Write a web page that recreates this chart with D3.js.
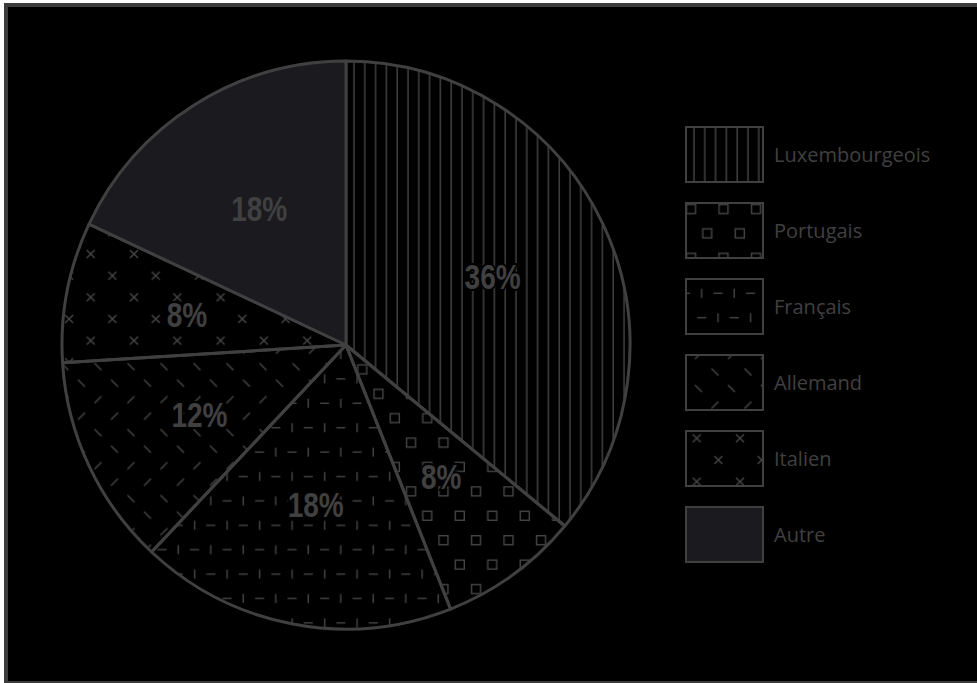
<!DOCTYPE html>
<html>
<head>
<meta charset="utf-8">
<script src="https://cdn.jsdelivr.net/npm/d3@7"></script>
<style>
  body { margin: 0; background: #fff; }
</style>
</head>
<body>
<div id="chart"></div>
<script>
// data
const categories = ["Luxembourgeois", "Portugais", "Français", "Allemand", "Italien", "Autre"];
const shares = [36, 8, 18, 12, 8, 18];
const pctLabels = ["36%", "8%", "18%", "12%", "8%", "18%"];
const patternKinds = ["vlines", "squares", "dashes", "diag", "cross", "solid"];

const W = 977, H = 683;
const cx = 346, cy = 345, radius = 284;
const lineCol = "#454545", edgeCol = "#404040", textCol = "#404040";

const svg = d3.select("#chart").append("svg")
    .attr("width", W)
    .attr("height", H);

// frame
svg.append("rect").attr("x", 4).attr("y", 3).attr("width", W - 4).attr("height", H - 3).attr("fill", "#3c3c3c");
svg.append("rect").attr("x", 8).attr("y", 7).attr("width", W - 8).attr("height", 674).attr("fill", "#000");

const defs = svg.append("defs");

// build one hatch pattern; ox/oy shift the tile origin
function addPattern(id, kind, ox, oy) {
  let p;
  if (kind === "vlines") {
    p = defs.append("pattern").attr("width", 10.8).attr("height", 10);
    p.append("line").attr("x1", 8).attr("x2", 8).attr("y1", -1).attr("y2", 11);
  } else if (kind === "squares") {
    p = defs.append("pattern").attr("width", 32.5).attr("height", 48.8);
    [[8.1, 12.2], [24.4, 36.6]].forEach(c => {
      p.append("rect").attr("x", c[0] - 4.5).attr("y", c[1] - 4.5).attr("width", 9).attr("height", 9).attr("fill", "none");
    });
  } else if (kind === "dashes") {
    p = defs.append("pattern").attr("width", 32.5).attr("height", 48.8);
    const v = (x, y) => p.append("line").attr("x1", x).attr("x2", x).attr("y1", y - 4.5).attr("y2", y + 4.5);
    const h = (x, y) => p.append("line").attr("x1", x - 4.5).attr("x2", x + 4.5).attr("y1", y).attr("y2", y);
    v(8.1, 12.2); h(24.4, 12.2);
    h(8.1, 36.6); v(24.4, 36.6);
  } else if (kind === "diag") {
    p = defs.append("pattern").attr("width", 33).attr("height", 66);
    const back = (x, y) => p.append("line").attr("x1", x - 3.5).attr("x2", x + 3.5).attr("y1", y - 3.5).attr("y2", y + 3.5);
    const fwd = (x, y) => p.append("line").attr("x1", x - 3.5).attr("x2", x + 3.5).attr("y1", y + 3.5).attr("y2", y - 3.5);
    back(24.75, 8.25); back(8.25, 24.75);
    fwd(24.75, 41.25); fwd(8.25, 57.75);
  } else if (kind === "cross") {
    p = defs.append("pattern").attr("width", 43.3).attr("height", 43.3);
    [[10.8, 10.8], [32.5, 32.5]].forEach(c => {
      p.append("path").attr("d", `M${c[0]-4},${c[1]-4}L${c[0]+4},${c[1]+4}M${c[0]-4},${c[1]+4}L${c[0]+4},${c[1]-4}`);
    });
  } else {
    p = defs.append("pattern").attr("width", 10).attr("height", 10);
    p.append("rect").attr("width", 10).attr("height", 10).attr("fill", "#1b1a1f");
  }
  p.attr("id", id).attr("patternUnits", "userSpaceOnUse").attr("x", ox).attr("y", oy);
  p.selectAll("line,path,rect[fill='none']").attr("stroke", lineCol).attr("stroke-width", 1.4);
  return "url(#" + id + ")";
}

// phase of each hatch inside the pie (relative to centre) and inside a legend box
const pieOffsets = [[0, 0], [-8.1, -12.2], [-13.3, -2.7], [-8.75, 13.45], [-6.3, -15.2], [0, 0]];
const legOffsets = [[0, 0], [-3.1, -6.2], [7.6, 2.1], [4.25, 8.75], [-0.1, -3.5], [0, 0]];

const pie = d3.pie().sort(null).value(d => d);
const arcs = pie(shares);
const arc = d3.arc().innerRadius(0).outerRadius(radius);
const labelArc = d3.arc().innerRadius(162).outerRadius(162);

const g = svg.append("g").attr("transform", `translate(${cx},${cy})`);

g.selectAll("path.slice")
  .data(arcs)
  .enter().append("path")
    .attr("class", "slice")
    .attr("d", arc)
    .attr("fill", (d, i) => addPattern("pie" + i, patternKinds[i], pieOffsets[i][0], pieOffsets[i][1]))
    .attr("stroke", edgeCol)
    .attr("stroke-width", 3)
    .attr("stroke-linejoin", "round");

// condensed bold labels: squeeze Liberation Sans Bold horizontally,
// with a thin knockout so the hatching stops around the digits
g.selectAll("text.pct")
  .data(arcs)
  .enter().append("text")
    .attr("class", "pct")
    .attr("transform", d => "translate(" + labelArc.centroid(d) + ") scale(0.8,1)")
    .attr("text-anchor", "middle")
    .attr("dy", "0.36em")
    .style("font-family", "'Liberation Sans', Arial, sans-serif")
    .style("font-weight", "bold")
    .style("font-size", "35px")
    .style("fill", textCol)
    .style("stroke", (d, i) => patternKinds[i] === "solid" ? "none" : "#000")
    .style("stroke-width", 4)
    .style("paint-order", "stroke")
    .text((d, i) => pctLabels[i]);

// legend
const legend = svg.append("g").attr("transform", "translate(686,127)");
const item = legend.selectAll("g.item")
  .data(categories)
  .enter().append("g")
    .attr("class", "item")
    .attr("transform", (d, i) => `translate(0,${i * 76})`);

item.append("rect")
    .attr("width", 77)
    .attr("height", 55)
    .attr("fill", (d, i) => addPattern("leg" + i, patternKinds[i], legOffsets[i][0], legOffsets[i][1]))
    .attr("stroke", edgeCol)
    .attr("stroke-width", 2);

item.append("text")
    .attr("x", 88)
    .attr("y", 27.5)
    .attr("dy", "0.35em")
    .style("font-family", "'Open Sans', sans-serif")
    .style("font-size", "20px")
    .style("fill", textCol)
    .text(d => d);
</script>
</body>
</html>
